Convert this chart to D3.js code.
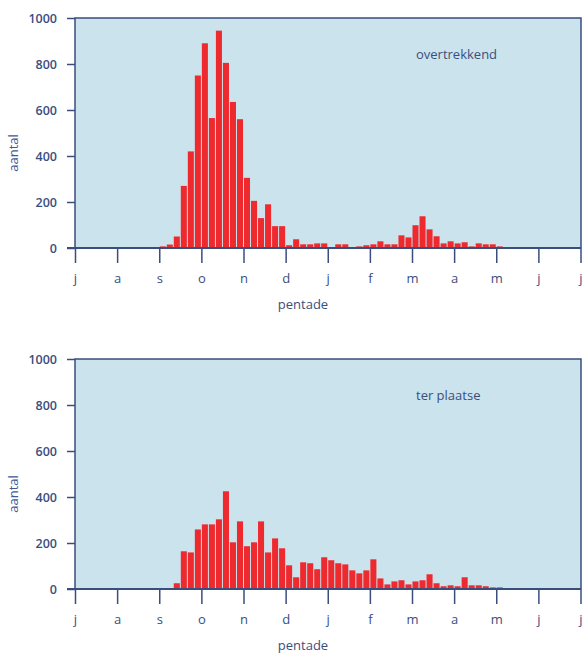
<!DOCTYPE html>
<html>
<head>
<meta charset="utf-8">
<script src="https://cdn.jsdelivr.net/npm/d3@7"></script>
<style>
    body { margin: 0; background: #fff; }
    svg text { font-family: "Open Sans", "Noto Sans", sans-serif; }
</style>
</head>
<body>
<div id="chart"></div>
<script>
// Month labels at the month boundaries (july to july)
const monthLabels = ["j", "a", "s", "o", "n", "d", "j", "f", "m", "a", "m", "j", "j"];
const yTicks = [0, 200, 400, 600, 800, 1000];

// 72 pentades, 6 per month, starting in july
const overtrekkend = [
    0, 0, 0, 0, 0, 0,                   // jul
    0, 0, 0, 0, 0, 0,                   // aug
    7, 15, 50, 270, 420, 750,           // sep
    890, 565, 945, 805, 635, 560,       // oct
    305, 205, 130, 190, 95, 95,         // nov
    12, 38, 16, 16, 20, 20,             // dec
    0, 16, 16, 0, 7, 12,                // jan
    16, 29, 16, 16, 55, 46,             // feb
    99, 138, 81, 51, 20, 29,            // mar
    20, 25, 7, 20, 16, 16,              // apr
    7, 3, 3, 0, 0, 0,                   // may
    0, 0, 0, 0, 0, 0                    // jun
];

const terPlaatse = [
    0, 0, 0, 0, 0, 0,                   // jul
    0, 0, 1, 0, 0, 0,                   // aug
    3, 3, 25, 164, 159, 259,            // sep
    281, 281, 303, 425, 203, 294,       // oct
    186, 203, 294, 159, 220, 177,       // nov
    103, 51, 116, 112, 86, 138,         // dec
    125, 112, 107, 81, 68, 81,          // jan
    129, 46, 20, 33, 38, 20,            // feb
    33, 38, 64, 25, 12, 16,             // mar
    12, 51, 16, 16, 12, 7,              // apr
    7, 0, 0, 2, 0, 0,                   // may
    2, 0, 0, 0, 0, 0                    // jun
];

const width = 583, height = 656;
const left = 75, right = 581;
const axisColor = "#3a4e7e";
const labelColor = "#3d5a96";

const svg = d3.select("#chart")
    .append("svg")
    .attr("width", width)
    .attr("height", height);

// Shared x scales: one band per pentade, one linear for month boundaries
const x = d3.scaleBand()
    .domain(d3.range(overtrekkend.length))
    .range([left, right - 0.5])
    .paddingInner(0.14)
    .paddingOuter(0.07);

const xMonth = d3.scaleLinear()
    .domain([0, 12])
    .range([left, right - 0.5]);

function drawPanel(top, values, title) {
    const plotHeight = 230;
    const base = top + plotHeight;

    const y = d3.scaleLinear()
        .domain([0, 1000])
        .range([base, top]);

    const g = svg.append("g");

    // background
    g.append("rect")
        .attr("x", left)
        .attr("y", top)
        .attr("width", right - left)
        .attr("height", plotHeight)
        .attr("fill", "#cbe3ec");

    // bars
    g.append("g")
        .selectAll("rect")
        .data(values)
        .join("rect")
        .attr("x", (d, i) => x(i))
        .attr("y", d => y(d))
        .attr("width", x.bandwidth())
        .attr("height", d => base - y(d))
        .attr("fill", "#ee2a2f");

    // frame: top, left, right
    g.append("path")
        .attr("d", `M${left},${base} V${top} H${right} V${base}`)
        .attr("fill", "none")
        .attr("stroke", axisColor)
        .attr("stroke-width", 1.5);

    // y axis
    const yAxis = g.append("g")
        .attr("transform", `translate(${left},0)`)
        .call(d3.axisLeft(y).tickValues(yTicks).tickFormat(d3.format("d")).tickSize(8).tickPadding(10));
    yAxis.select(".domain").remove();
    yAxis.selectAll("line").attr("stroke", axisColor).attr("stroke-width", 1.5);
    yAxis.selectAll("text")
        .attr("fill", axisColor)
        .style("font-size", "12.5px")
        .style("font-weight", 600);

    // x axis (month ticks hang below the baseline)
    const xAxis = g.append("g")
        .attr("transform", `translate(0,${base})`)
        .call(d3.axisBottom(xMonth)
            .tickValues(d3.range(13))
            .tickFormat(i => monthLabels[i])
            .tickSize(15)
            .tickPadding(11));
    xAxis.select(".domain").remove();
    xAxis.selectAll("line").attr("stroke", axisColor).attr("stroke-width", 1.5);
    xAxis.selectAll("text")
        .attr("fill", axisColor)
        .style("font-size", "13px");

    // baseline
    g.append("line")
        .attr("x1", left - 8)
        .attr("x2", right)
        .attr("y1", base)
        .attr("y2", base)
        .attr("stroke", axisColor)
        .attr("stroke-width", 2);

    // panel title
    g.append("text")
        .attr("x", 416)
        .attr("y", top + 41)
        .attr("fill", axisColor)
        .style("font-size", "13px")
        .text(title);

    // axis titles
    g.append("text")
        .attr("transform", `translate(18,${top + 135}) rotate(-90)`)
        .attr("text-anchor", "middle")
        .attr("fill", labelColor)
        .style("font-size", "13px")
        .text("aantal");

    g.append("text")
        .attr("x", 303)
        .attr("y", base + 61)
        .attr("text-anchor", "middle")
        .attr("fill", axisColor)
        .style("font-size", "13px")
        .text("pentade");
}

drawPanel(18, overtrekkend, "overtrekkend");
drawPanel(359, terPlaatse, "ter plaatse");
</script>
</body>
</html>
